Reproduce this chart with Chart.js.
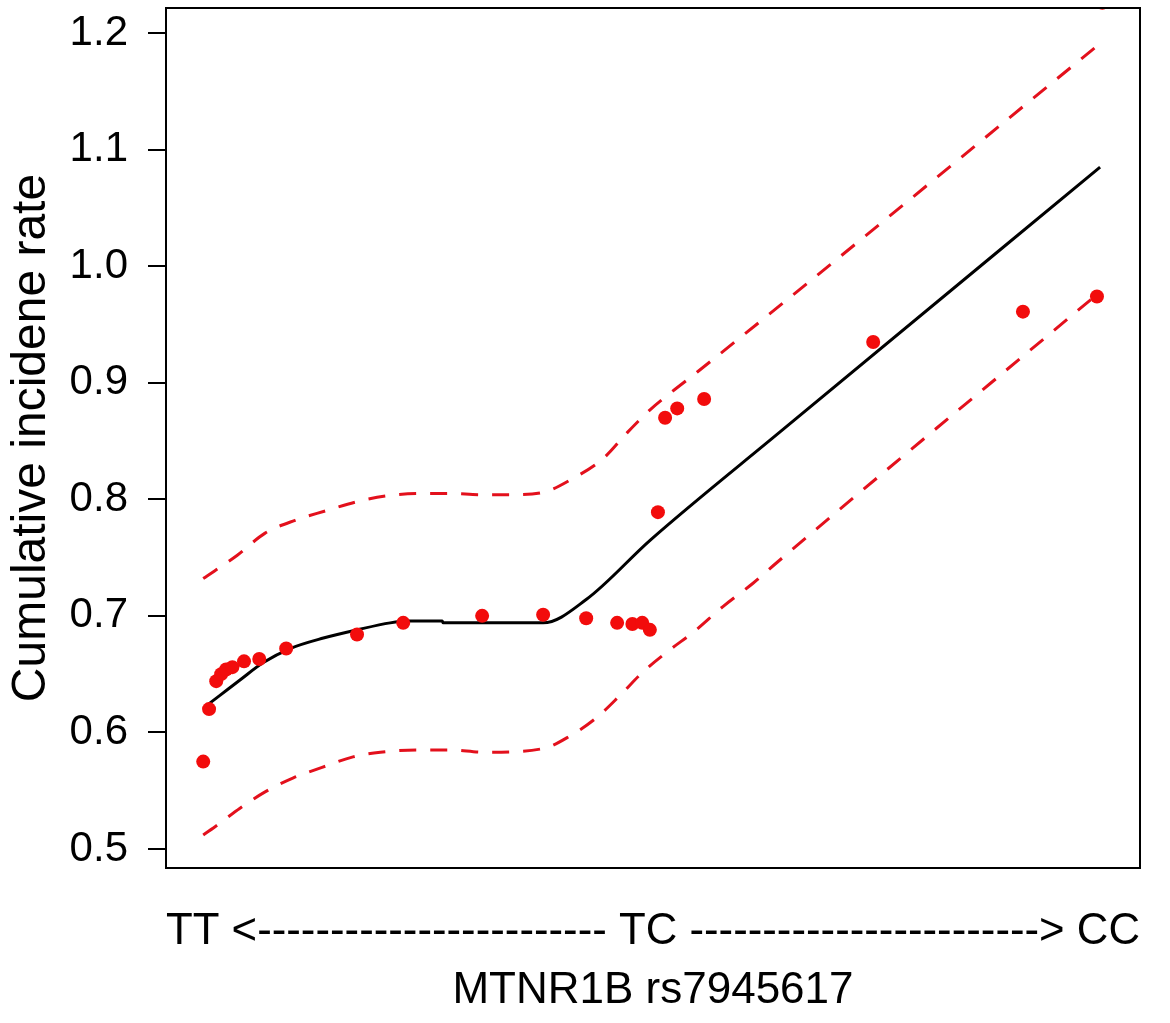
<!DOCTYPE html>
<html>
<head>
<meta charset="utf-8">
<title>MTNR1B rs7945617</title>
<script src="https://cdn.jsdelivr.net/npm/chart.js@4/dist/chart.umd.min.js"></script>
<style>
    body { margin: 0; background: #fff; }
    #wrap { width: 1170px; height: 1023px; }
</style>
</head>
<body>
<div id="wrap"><canvas id="myChart" width="1170" height="1023"></canvas></div>
<script>
// genotype scale: 0 = TT, 1 = TC, 2 = CC
const pointX = [0.000, 0.013, 0.029, 0.040, 0.051, 0.065, 0.091, 0.125, 0.185, 0.343, 0.446,
    0.622, 0.758, 0.854, 0.923, 0.957, 0.979, 0.996, 1.014, 1.030, 1.057, 1.117, 1.494,
    1.828, 1.993, 2.005];
const pointY = [0.575, 0.620, 0.644, 0.650, 0.654, 0.656, 0.661, 0.663, 0.672, 0.684, 0.694,
    0.700, 0.701, 0.698, 0.694, 0.693, 0.694, 0.688, 0.789, 0.870, 0.878, 0.886, 0.935,
    0.961, 0.974, 1.226];

// fitted curve
const fitX = [0.004, 0.038, 0.082, 0.134, 0.194, 0.268, 0.343, 0.417, 0.455, 0.533, 0.535,
    0.758, 0.854, 0.997, 1.287, 2.000];
const fitY = [0.622, 0.632, 0.645, 0.660, 0.672, 0.681, 0.688, 0.694, 0.6955, 0.6955, 0.694,
    0.694, 0.714, 0.765, 0.858, 1.085];

// confidence band
const upperX = [0.000, 0.076, 0.138, 0.205, 0.272, 0.343, 0.410, 0.484, 0.551, 0.618, 0.689,
    0.758, 0.825, 0.892, 0.945, 0.997, 1.041, 1.101, 2.000];
const upperY = [0.732, 0.752, 0.771, 0.782, 0.790, 0.798, 0.803, 0.805, 0.805, 0.804, 0.804,
    0.806, 0.818, 0.835, 0.857, 0.877, 0.891, 0.909, 1.191];
const lowerX = [0.000, 0.033, 0.082, 0.138, 0.201, 0.265, 0.334, 0.395, 0.477, 0.551, 0.624,
    0.756, 0.818, 0.878, 0.930, 0.981, 1.041, 1.093, 1.159, 1.226, 1.280, 2.000];
const lowerY = [0.512, 0.521, 0.535, 0.549, 0.561, 0.570, 0.579, 0.583, 0.585, 0.585, 0.583,
    0.586, 0.597, 0.613, 0.632, 0.652, 0.671, 0.686, 0.708, 0.728, 0.746, 0.978];

const yTicks = [0.5, 0.6, 0.7, 0.8, 0.9, 1.0, 1.1, 1.2];
const xTitleLines = ["TT <" + "-".repeat(24) + " TC " + "-".repeat(24) + "> CC", "MTNR1B rs7945617"];
const yTitle = "Cumulative incidene rate";

const fontFamily = "'Liberation Sans', Arial, sans-serif";

function toPoints(xs, ys) {
    return xs.map((x, i) => ({ x: x, y: ys[i] }));
}

// draw the full box round the plot like base R does
const boxPlugin = {
    id: "box",
    afterDraw(chart) {
        const { ctx, chartArea } = chart;
        ctx.save();
        ctx.strokeStyle = "#000";
        ctx.lineWidth = 2;
        ctx.strokeRect(chartArea.left, chartArea.top, chartArea.right - chartArea.left, chartArea.bottom - chartArea.top);
        ctx.restore();
    }
};

const ctx = document.getElementById("myChart");

new Chart(ctx, {
    type: "scatter",
    data: {
        datasets: [
            {
                label: "observed",
                data: toPoints(pointX, pointY),
                backgroundColor: "#f20c0c",
                borderWidth: 0,
                pointRadius: 7,
                clip: 0
            },
            {
                label: "fit",
                type: "line",
                data: toPoints(fitX, fitY),
                borderColor: "#000",
                borderWidth: 3,
                pointRadius: 0,
                cubicInterpolationMode: "monotone",
                fill: false
            },
            {
                label: "upper",
                type: "line",
                data: toPoints(upperX, upperY),
                borderColor: "#e3101c",
                borderWidth: 3,
                borderDash: [17, 14],
                pointRadius: 0,
                cubicInterpolationMode: "monotone",
                fill: false
            },
            {
                label: "lower",
                type: "line",
                data: toPoints(lowerX, lowerY),
                borderColor: "#e3101c",
                borderWidth: 3,
                borderDash: [17, 14],
                pointRadius: 0,
                cubicInterpolationMode: "monotone",
                fill: false
            }
        ]
    },
    options: {
        responsive: false,
        animation: false,
        devicePixelRatio: 1,
        layout: { padding: { top: 8, right: 30, left: 0, bottom: 0 } },
        plugins: {
            legend: { display: false },
            tooltip: { enabled: false }
        },
        scales: {
            x: {
                type: "linear",
                min: -0.083,
                max: 2.089,
                grid: { display: false },
                border: { display: false },
                ticks: { display: false },
                title: {
                    display: true,
                    text: xTitleLines,
                    color: "#000",
                    font: { family: fontFamily, size: 44, lineHeight: 1.34 },
                    padding: { top: 32, bottom: 3 }
                },
                afterFit(scale) {
                    scale.height = 155;
                    scale.paddingLeft = 0;
                    scale.paddingRight = 0;
                }
            },
            y: {
                type: "linear",
                min: 0.4837,
                max: 1.2215,
                afterBuildTicks(scale) {
                    scale.ticks = yTicks.map(v => ({ value: v }));
                },
                grid: {
                    display: true,
                    drawOnChartArea: false,
                    drawTicks: true,
                    tickLength: 18,
                    tickColor: "#000",
                    lineWidth: 2
                },
                border: { display: false },
                ticks: {
                    color: "#000",
                    padding: 20,
                    font: { family: fontFamily, size: 42 },
                    callback: v => v.toFixed(1)
                },
                title: {
                    display: true,
                    text: yTitle,
                    color: "#000",
                    font: { family: fontFamily, size: 48, lineHeight: 1 },
                    padding: { top: 8, bottom: 0 }
                },
                afterFit(scale) {
                    scale.width = 166;
                    scale.paddingTop = 0;
                    scale.paddingBottom = 0;
                }
            }
        }
    },
    plugins: [boxPlugin]
});
</script>
</body>
</html>
